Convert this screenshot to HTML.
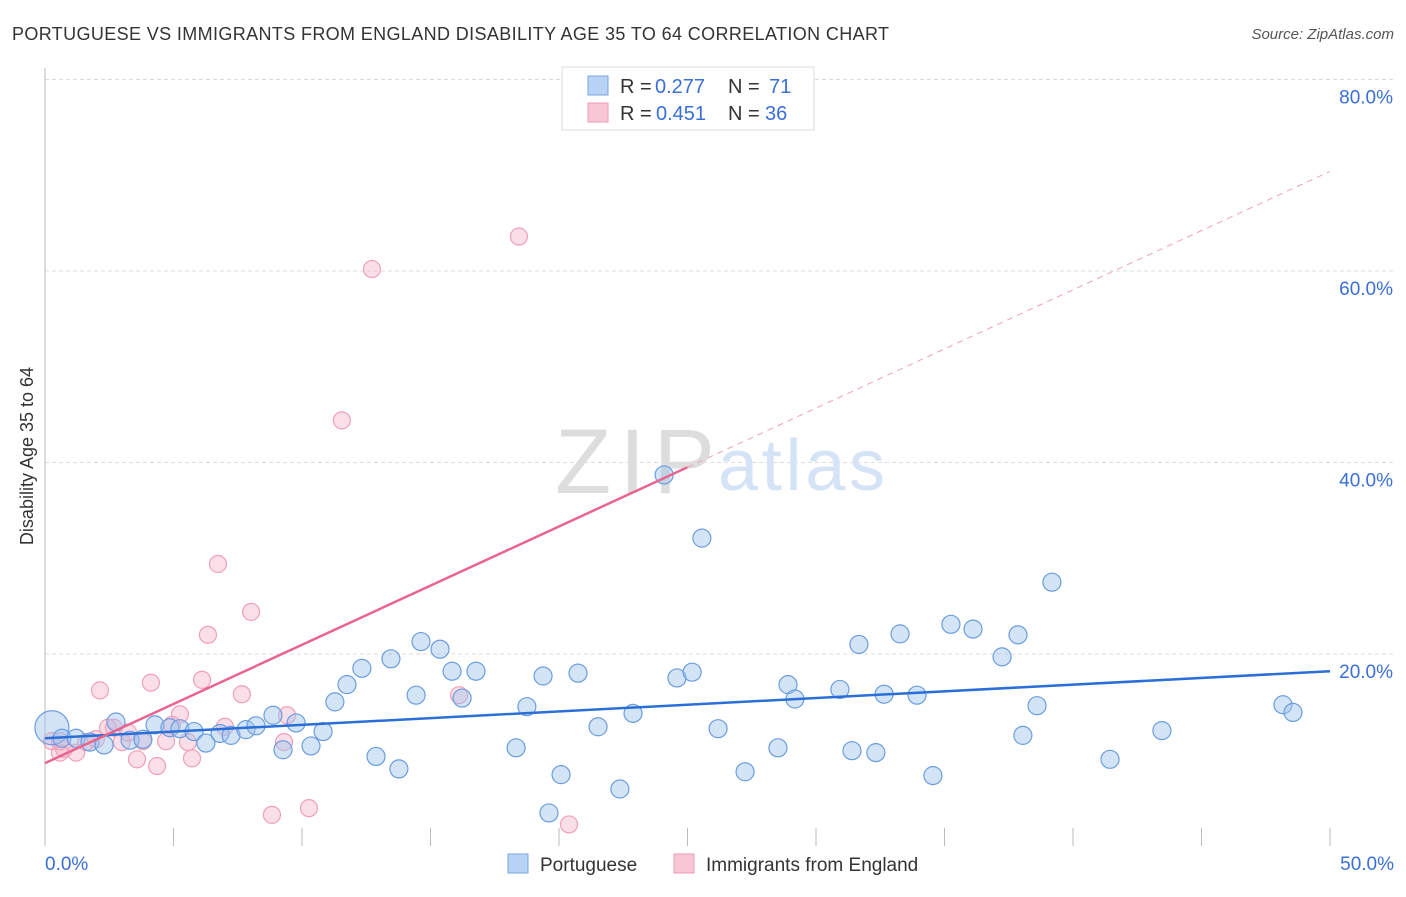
<!DOCTYPE html>
<html><head><meta charset="utf-8"><style>
body{margin:0;background:#fff;font-family:"Liberation Sans",sans-serif}
svg text{font-family:"Liberation Sans",sans-serif}
</style></head><body>
<svg id="chart" width="1406" height="892">
<text x="12" y="40" font-size="18" fill="#333" textLength="877">PORTUGUESE VS IMMIGRANTS FROM ENGLAND DISABILITY AGE 35 TO 64 CORRELATION CHART</text>
<text x="1394" y="39" font-size="15" fill="#555" text-anchor="end" font-style="italic">Source: ZipAtlas.com</text>
<text x="33" y="456" font-size="18" fill="#333" text-anchor="middle" transform="rotate(-90 33 456)">Disability Age 35 to 64</text>
<g id="grid"></g>
<text x="555" y="493" font-size="92" fill="#ddd" textLength="160" font-family="Liberation Serif">ZIP</text>
<text x="718" y="490" font-size="72" fill="#d4e3f5" textLength="167">atlas</text>
<g id="pts"></g>
<g id="lines"></g>
<g>
<rect x="562" y="67" width="252" height="63" fill="#fff" stroke="#ddd"/>
<rect x="588" y="76" width="20" height="19" fill="#b8d3f5" stroke="#7aa6e0"/>
<text x="620" y="93" font-size="20" fill="#333">R =</text><text x="655" y="93" font-size="20" fill="#3a6fd8">0.277</text>
<text x="728" y="93" font-size="20" fill="#333">N =</text><text x="769" y="93" font-size="20" fill="#3a6fd8">71</text>
<rect x="588" y="103" width="20" height="19" fill="#f8c6d5" stroke="#f09ab5"/>
<text x="620" y="120" font-size="20" fill="#333">R =</text><text x="656" y="120" font-size="20" fill="#3a6fd8">0.451</text>
<text x="728" y="120" font-size="20" fill="#333">N =</text><text x="765" y="120" font-size="20" fill="#3a6fd8">36</text>
</g>
<g>
<rect x="508" y="854" width="20" height="19" fill="#b8d3f5" stroke="#7aa6e0"/>
<text x="540" y="871" font-size="19" fill="#333">Portuguese</text>
<rect x="674" y="854" width="20" height="19" fill="#f8c6d5" stroke="#f09ab5"/>
<text x="706" y="871" font-size="19" fill="#333">Immigrants from England</text>
</g>
<text x="45" y="870" font-size="19" fill="#3a6fd8">0.0%</text>
<text x="1394" y="870" font-size="19" fill="#3a6fd8" text-anchor="end">50.0%</text>
</svg>
<script>
const yTicks=[20,40,60,80];
const xTicks=[0,5,10,15,20,25,30,35,40,45,50];
const blueX=[0.27,0.66,1.21,1.75,2.30,2.76,3.31,3.81,4.28,4.86,5.25,5.80,6.26,6.81,7.24,7.82,8.21,8.87,9.26,9.77,10.35,10.82,11.28,11.75,12.33,12.88,13.46,13.77,14.44,14.63,15.37,15.84,16.23,16.77,18.33,18.75,19.38,20.08,19.61,20.74,21.52,22.37,22.88,24.09,24.59,25.18,25.56,26.19,27.24,28.52,28.91,29.18,30.93,31.40,31.67,32.33,32.65,33.27,33.93,34.55,35.25,36.11,37.24,37.86,38.05,38.60,39.18,41.44,43.46,48.17,48.56];
const blueY=[12.3,11.2,11.2,10.8,10.5,12.9,11.0,11.1,12.6,12.3,12.2,11.9,10.7,11.7,11.5,12.1,12.5,13.6,10.0,12.8,10.4,11.9,15.0,16.8,18.5,9.3,19.5,8.0,15.7,21.3,20.5,18.2,15.4,18.2,10.2,14.5,17.7,7.4,3.4,18.0,12.4,5.9,13.8,38.7,17.5,18.1,32.1,12.2,7.7,10.2,16.8,15.3,16.3,9.9,21.0,9.7,15.8,22.1,15.7,7.3,23.1,22.6,19.7,22.0,11.5,14.6,27.5,9.0,12.0,14.7,13.9];
const pinkX=[0.27,0.58,0.74,1.21,1.60,2.14,2.45,2.68,2.99,3.58,3.81,4.12,4.36,4.71,4.94,5.25,5.56,5.72,6.11,6.34,6.73,7.00,7.66,8.02,8.83,9.30,9.42,10.27,11.55,12.72,16.11,18.44,20.39,0.58,1.98,3.23];
const pinkY=[10.9,9.7,10.1,9.7,10.8,16.2,12.3,12.3,10.8,9.0,10.9,17.0,8.3,10.9,12.6,13.7,10.8,9.1,17.3,22.0,29.4,12.4,15.8,24.4,3.2,10.8,13.6,3.9,44.4,60.2,15.7,63.6,2.2,10.9,11.1,11.8];
const blueSize=[17].concat(Array(70).fill(9));
const blueLine=[11.2,18.2];
const pinkLine=[8.6,70.4];
const ns='http://www.w3.org/2000/svg';
const X=v=>45+v*25.7, Y=v=>845.5-v*9.575;
function mk(t,a,p){const e=document.createElementNS(ns,t);for(const k in a)e.setAttribute(k,a[k]);p.appendChild(e);return e;}
const grid=document.getElementById('grid');
yTicks.forEach(t=>{
 const l=mk('line',{x1:45,x2:1394,y1:Y(t),y2:Y(t),stroke:'#ddd','stroke-dasharray':'4,3'},grid);
 
 
 const tx=mk('text',{x:1393,y:Y(t)+24,'font-size':19,fill:'#3a6fd8','text-anchor':'end'},grid);
 tx.textContent=t.toFixed(1)+'%';
 
 
});
const ax=mk('line',{x1:45,x2:45,y1:68,y2:846,stroke:'#bbb'},grid);


xTicks.forEach(t=>{
 const l=mk('line',{x1:X(t),x2:X(t),y1:828,y2:846,stroke:'#bbb'},grid);
 
 
});
const pts=document.getElementById('pts');
pinkX.forEach((x,i)=>{
 const c=mk('circle',{cx:X(x),cy:Y(pinkY[i]),r:8.5,fill:'rgba(246,176,198,0.4)',stroke:'#f0a0b8','stroke-width':1.2},pts);
 
 
});
blueX.forEach((x,i)=>{
 const c=mk('circle',{cx:X(x),cy:Y(blueY[i]),r:blueSize[i],fill:'rgba(160,196,238,0.45)',stroke:'#6a9de0','stroke-width':1.2},pts);
 
 
});
const lg=document.getElementById('lines');
const b=mk('line',{x1:X(0),y1:Y(blueLine[0]),x2:X(50),y2:Y(blueLine[1]),stroke:'#2a6fd8','stroke-width':2.5},lg);


const pm=v=>pinkLine[0]+(pinkLine[1]-pinkLine[0])*v/50;
const p1=mk('line',{x1:X(0),y1:Y(pm(0)),x2:X(25),y2:Y(pm(25)),stroke:'#e8658f','stroke-width':2.5},lg);


const p2=mk('line',{x1:X(25),y1:Y(pm(25)),x2:X(50),y2:Y(pm(50)),stroke:'#eea0b8','stroke-width':1,'stroke-dasharray':'6,5'},lg);


</script>
</body></html>
